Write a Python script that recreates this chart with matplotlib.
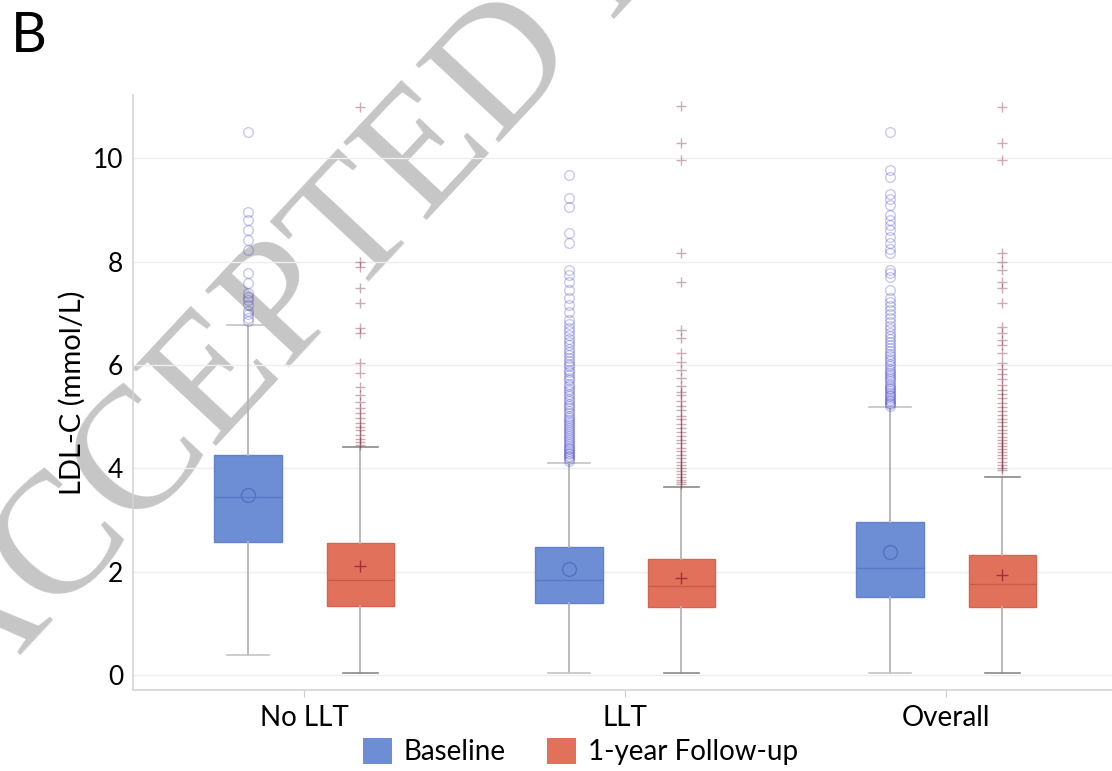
import matplotlib
matplotlib.use("Agg")
import matplotlib.pyplot as plt
from matplotlib.patches import Patch

groups = ["No LLT", "LLT", "Overall"]
series = ["Baseline", "1-year Follow-up"]

# box statistics per group: q1, median, q3, mean, lower / upper whisker
base_q1 = [2.57, 1.39, 1.51]
base_med = [3.45, 1.84, 2.07]
base_q3 = [4.26, 2.48, 2.96]
base_mean = [3.48, 2.05, 2.38]
base_lo = [0.39, 0.04, 0.04]
base_hi = [6.77, 4.10, 5.18]

fu_q1 = [1.34, 1.32, 1.32]
fu_med = [1.84, 1.72, 1.76]
fu_q3 = [2.55, 2.24, 2.32]
fu_mean = [2.10, 1.88, 1.93]
fu_lo = [0.04, 0.04, 0.04]
fu_hi = [4.41, 3.64, 3.83]

# outliers above the upper whisker
base_fliers = [
    [10.5, 8.96, 8.8, 8.6, 8.41, 8.22, 7.77, 7.58, 7.4, 7.32, 7.25, 7.15,
     7.05, 6.98, 6.9, 6.84],
    [9.67, 9.23, 9.05, 8.55, 8.36, 7.83, 7.74, 7.6, 7.45, 7.29, 7.16, 7.02,
     6.87, 6.8, 6.72, 6.65, 6.58, 6.5, 6.44, 6.38, 6.31, 6.25, 6.2, 6.14,
     6.08, 6.02, 5.97, 5.91, 5.86, 5.8, 5.75, 5.7, 5.64, 5.59, 5.54, 5.49,
     5.44, 5.39, 5.34, 5.3, 5.25, 5.2, 5.16, 5.11, 5.07, 5.02, 4.98, 4.94,
     4.9, 4.86, 4.82, 4.78, 4.74, 4.7, 4.66, 4.62, 4.58, 4.55, 4.51, 4.47,
     4.44, 4.4, 4.37, 4.33, 4.3, 4.27, 4.24, 4.21, 4.18, 4.15],
    [10.5, 9.77, 9.63, 9.3, 9.2, 9.09, 8.9, 8.8, 8.7, 8.6, 8.47, 8.35, 8.25,
     8.16, 7.83, 7.77, 7.7, 7.45, 7.3, 7.22, 7.14, 7.06, 6.98, 6.9, 6.83,
     6.76, 6.69, 6.62, 6.56, 6.5, 6.44, 6.38, 6.32, 6.27, 6.22, 6.17, 6.12,
     6.07, 6.02, 5.97, 5.93, 5.88, 5.84, 5.8, 5.76, 5.72, 5.68, 5.64, 5.6,
     5.56, 5.53, 5.49, 5.46, 5.42, 5.39, 5.36, 5.33, 5.3, 5.27, 5.24, 5.21],
]
fu_fliers = [
    [10.99, 7.99, 7.9, 7.49, 7.2, 6.71, 6.61, 6.03, 5.85, 5.57, 5.42, 5.28,
     5.16, 5.06, 4.97, 4.87, 4.8, 4.74, 4.64, 4.57, 4.51, 4.45],
    [11.0, 10.3, 9.96, 8.16, 7.6, 6.67, 6.52, 6.23, 6.05, 5.9, 5.74, 5.6,
     5.47, 5.42, 5.3, 5.2, 5.12, 5.02, 4.95, 4.86, 4.78, 4.7, 4.62, 4.55,
     4.48, 4.4, 4.33, 4.26, 4.2, 4.13, 4.07, 4.01, 3.95, 3.89, 3.83, 3.78,
     3.73, 3.69],
    [10.99, 10.3, 9.96, 8.16, 8.0, 7.83, 7.6, 7.49, 7.2, 6.73, 6.61, 6.48,
     6.38, 6.23, 6.03, 5.92, 5.82, 5.72, 5.62, 5.52, 5.43, 5.35, 5.27, 5.19,
     5.11, 5.03, 4.96, 4.89, 4.82, 4.75, 4.68, 4.61, 4.55, 4.49, 4.43, 4.37,
     4.31, 4.25, 4.19, 4.13, 4.07, 4.01, 3.96],
]

yticks = [0, 2, 4, 6, 8, 10]

BLUE = "#6d8dd5"
RED = "#e2715c"

plt.rcParams["font.family"] = ["Lato", "DejaVu Sans"]

fig = plt.figure(figsize=(11.12, 7.71), dpi=100)
fig.patch.set_facecolor("white")
ax = fig.add_axes([0.1196, 0.105, 0.885, 0.7717])
ax.patch.set_alpha(0)


def make_stats(q1, med, q3, mean, lo, hi, fliers):
    return [dict(q1=a, med=b, q3=c, mean=d, whislo=e, whishi=f, fliers=g)
            for a, b, c, d, e, f, g in zip(q1, med, q3, mean, lo, hi, fliers)]


base_stats = make_stats(base_q1, base_med, base_q3, base_mean,
                        base_lo, base_hi, base_fliers)
fu_stats = make_stats(fu_q1, fu_med, fu_q3, fu_mean, fu_lo, fu_hi, fu_fliers)

x = list(range(len(groups)))
off = 0.175
w = 0.21

ax.bxp(base_stats, positions=[i - off for i in x], widths=w,
       patch_artist=True, showmeans=True, capwidths=0.13,
       boxprops=dict(facecolor=BLUE, edgecolor="#6482cc", lw=1),
       medianprops=dict(color="#5a78c8", lw=1),
       whiskerprops=dict(color="#b4b4b4", lw=1.3),
       capprops=dict(color="#c4c4c4", lw=1.2),
       meanprops=dict(marker="o", markerfacecolor="none",
                      markeredgecolor="#5470c4", markersize=10),
       flierprops=dict(marker="o", markerfacecolor="none",
                       markeredgecolor=(0.12, 0.12, 0.78, 0.24),
                       markersize=7, markeredgewidth=1))

ax.bxp(fu_stats, positions=[i + off for i in x], widths=w,
       patch_artist=True, showmeans=True, capwidths=0.11,
       boxprops=dict(facecolor=RED, edgecolor="#d8644f", lw=1),
       medianprops=dict(color="#c85a48", lw=1),
       whiskerprops=dict(color="#b4b4b4", lw=1.3),
       capprops=dict(color="#8a8a8a", lw=1.2),
       meanprops=dict(marker="+", markeredgecolor="#a0303a",
                      markersize=8, markeredgewidth=1),
       flierprops=dict(marker="+", markeredgecolor=(0.45, 0.05, 0.15, 0.35),
                       markersize=7, markeredgewidth=1))

ax.set_xlim(-0.533, 2.533)
ax.set_ylim(-0.29, 11.22)
ax.set_xticks(x)
ax.set_xticklabels(groups, fontsize=20)
ax.set_yticks(yticks)
ax.set_yticklabels([str(t) for t in yticks], fontsize=19)
ax.tick_params(axis="y", length=0, pad=7)
ax.tick_params(axis="x", length=5, color="#cccccc", pad=6)
ax.set_ylabel("LDL-C (mmol/L)", fontsize=21, labelpad=5)

ax.yaxis.grid(True, color="#eeeeee", lw=1)
ax.set_axisbelow(True)
for side in ("top", "right"):
    ax.spines[side].set_visible(False)
for side in ("left", "bottom"):
    ax.spines[side].set_color("#d4d4d4")
    ax.spines[side].set_linewidth(1.2)

handles = [Patch(facecolor=BLUE, edgecolor="none"),
           Patch(facecolor=RED, edgecolor="none")]
fig.legend(handles, series, loc="center", bbox_to_anchor=(0.522, 0.025),
           ncol=2, frameon=False, fontsize=20, handlelength=1.05,
           handleheight=1.05, handletextpad=0.4, columnspacing=1.5)

fig.text(0.01, 0.953, "B", fontsize=40, ha="left", va="center")

# stamp sits underneath the plot content
fig.text(0.577, 1.093, "ACCEPTED MANUSCRIPT", rotation=47,
         rotation_mode="anchor", ha="center", va="center",
         fontsize=125, family="Liberation Serif", color="#c6c6c6", zorder=-1)

fig.savefig("out.png", dpi=100, facecolor="white")
